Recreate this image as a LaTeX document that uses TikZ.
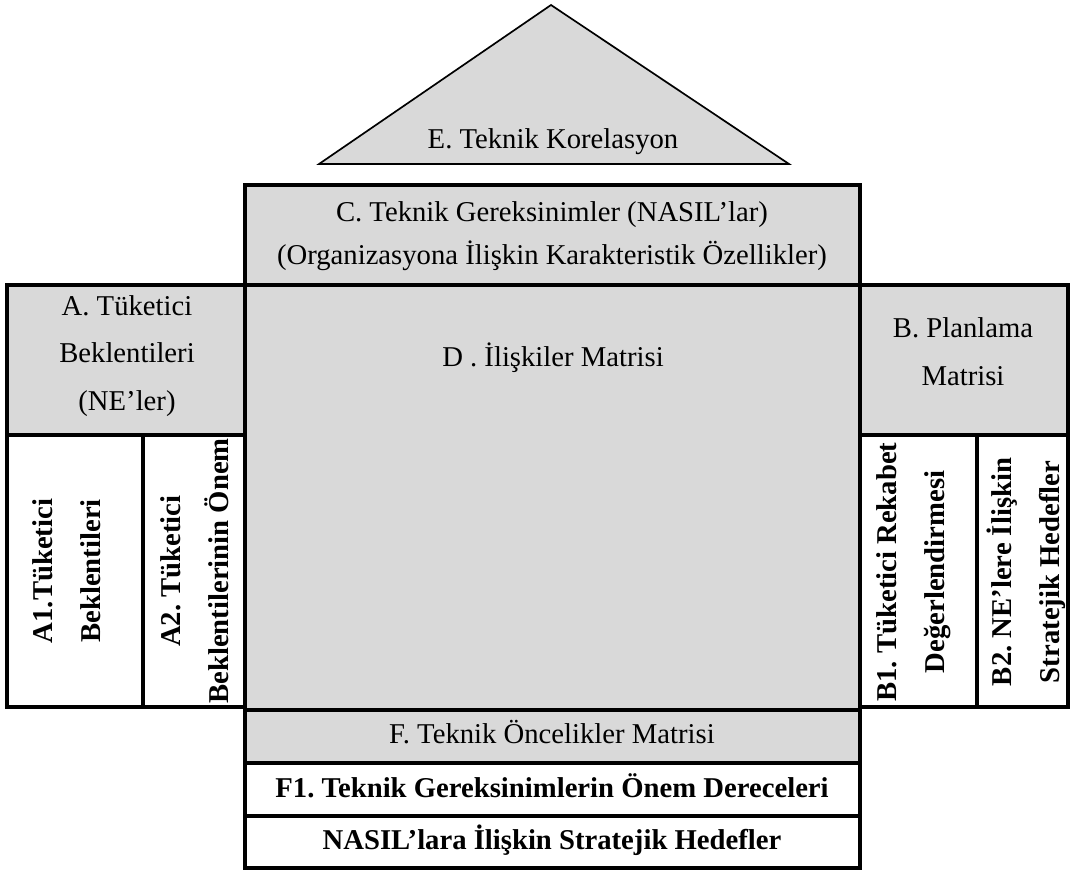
\documentclass[tikz,border=0pt]{standalone}
\usepackage{fontspec}
\setmainfont{Liberation Serif}
\frenchspacing

\begin{document}
\begin{tikzpicture}[x=0.025cm,y=-0.025cm,
  box/.style={draw,line width=2.4pt},
  shade/.style={box,fill=black!15},
  txt/.style={align=center,font=\fontsize{20.4}{34}\selectfont},
  bold/.style={txt,font=\fontsize{20.4}{34}\selectfont\bfseries},
  side/.style={bold,rotate=90}]
  \fill[white] (0,0) rectangle (1071,870);
  \filldraw[fill=black!15,line width=1.2pt] (551,5)--(789,164)--(319,164)--cycle;
  \draw[shade] (245,185) rectangle (860,285);
  \draw[shade] (245,285) rectangle (860,710);
  \draw[shade] (7,285) rectangle (245,435);
  \draw[box] (7,435) rectangle (143,707);
  \draw[box] (143,435) rectangle (245,707);
  \draw[shade] (860,285) rectangle (1068,435);
  \draw[box] (860,435) rectangle (977,707);
  \draw[box] (977,435) rectangle (1068,707);
  \draw[shade] (245,710) rectangle (860,763);
  \draw[box] (245,763) rectangle (860,816);
  \draw[box] (245,816) rectangle (860,868);
  \node[txt] (corr) at (553,142) {E. Teknik Korelasyon};
  \node[txt,font=\fontsize{20.4}{31}\selectfont] (hows) at (552,236)
    {C. Teknik Gereksinimler (NASIL’lar)\\(Organizasyona İlişkin Karakteristik Özellikler)};
  \node[txt] (rel) at (553,358) {D . İlişkiler Matrisi};
  \node[txt] (whats) at (127,356) {A. Tüketici\\Beklentileri\\(NE’ler)};
  \node[txt] (plan) at (963,352) {B. Planlama\\Matrisi};
  \node[side] (aone) at (67,571) {A1.Tüketici\\Beklentileri};
  \node[side] (atwo) at (195,571) {A2. Tüketici\\Beklentilerinin Önem};
  \node[side] (bone) at (914,572) {B1. Tüketici Rekabet\\Değerlendirmesi};
  \node[side] (btwo) at (1026,572) {B2. NE’lere İlişkin\\Stratejik Hedefler};
  \node[txt] (prio) at (552,732) {F. Teknik Öncelikler Matrisi};
  \node[bold] (imp) at (552,786) {F1. Teknik Gereksinimlerin Önem Dereceleri};
  \node[bold] (goal) at (552,840) {NASIL’lara İlişkin Stratejik Hedefler};
\end{tikzpicture}
\end{document}
